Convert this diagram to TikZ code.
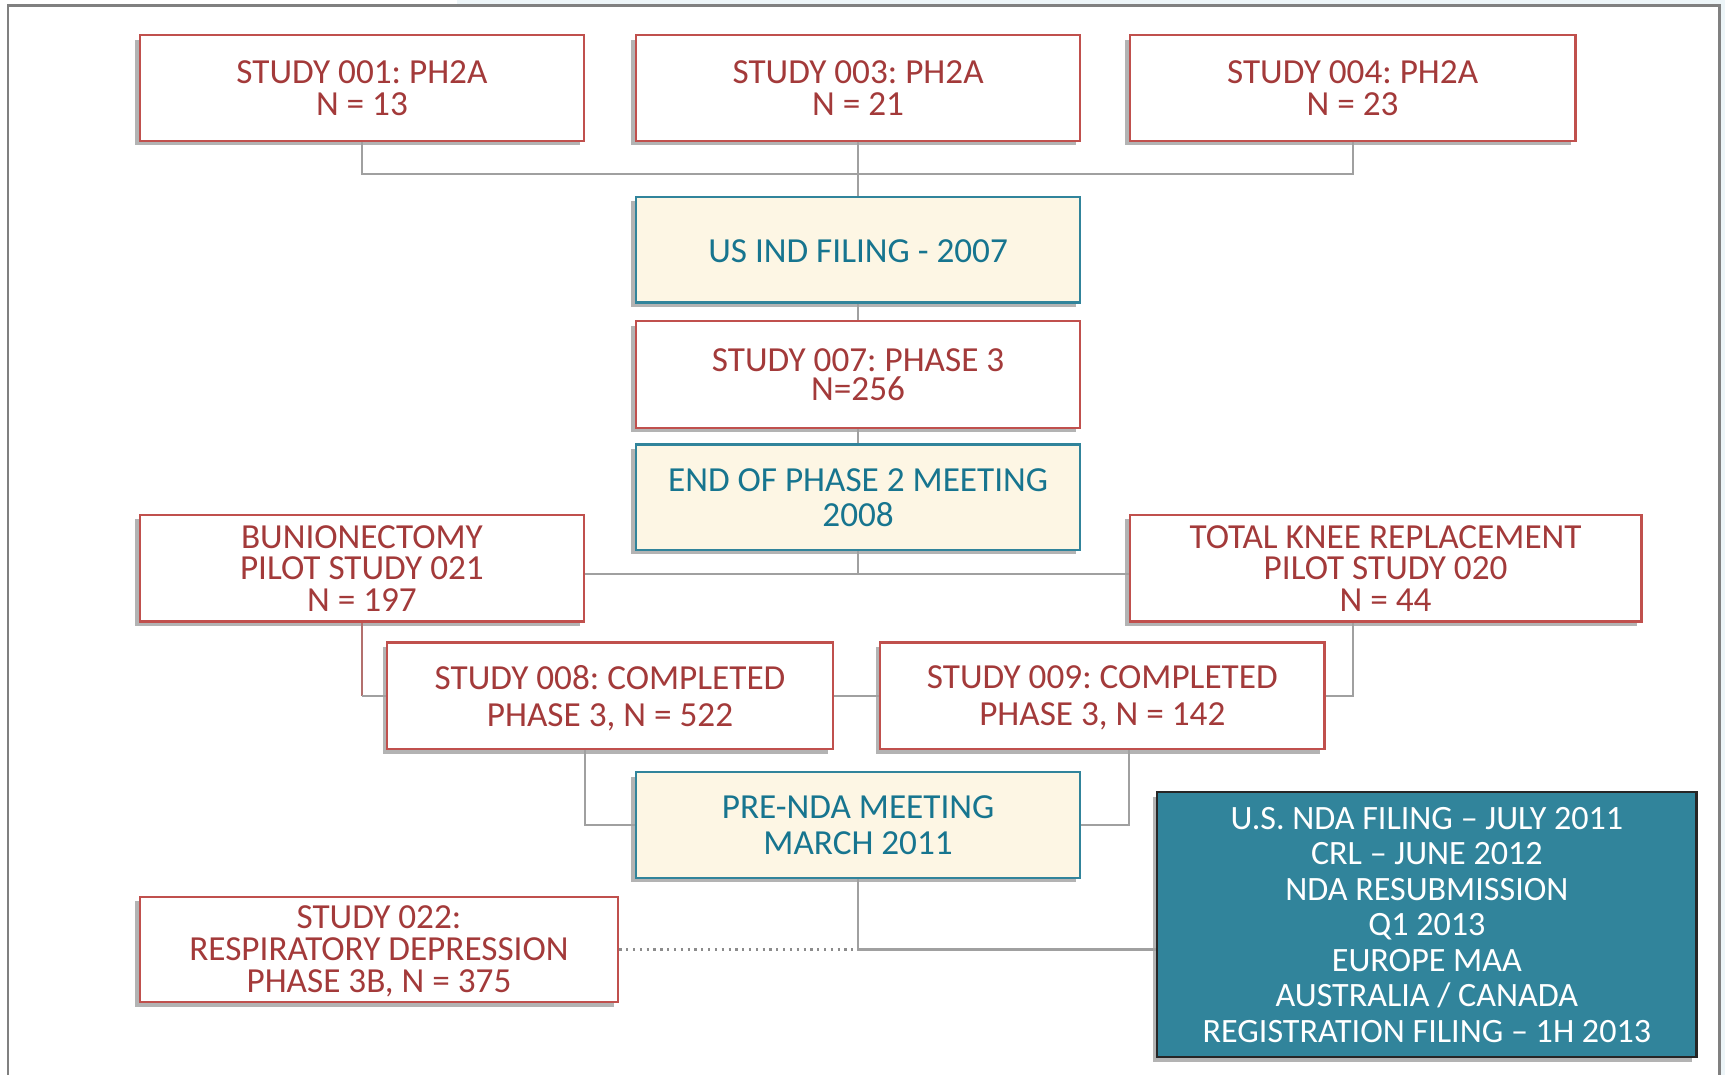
\documentclass[tikz,border=0pt]{standalone}
\usepackage{fontspec}
\setmainfont{Carlito}
\frenchspacing
\usetikzlibrary{shadows,calc}
\definecolor{boxred}{HTML}{C0504D}
\definecolor{txtred}{HTML}{A33A3A}
\definecolor{boxteal}{HTML}{31849B}
\definecolor{txtteal}{HTML}{17758F}
\definecolor{cream}{HTML}{FDF6E4}
\definecolor{ndafill}{HTML}{31849B}
\definecolor{linegray}{HTML}{A0A0A0}
\definecolor{framegray}{HTML}{808080}
\definecolor{bgblue}{HTML}{EDF5F8}
\begin{document}
\begin{tikzpicture}[x=1pt,y=-1pt,
  base/.style={draw, line width=2pt, align=center, inner sep=0pt,
    drop shadow={shadow xshift=-4pt,shadow yshift=-4pt,fill=black!35,opacity=0.85}},
  sz/.style 2 args={minimum width=#1pt, minimum height=#2pt},
  fs/.style 2 args={font=\fontsize{#1}{#2}\selectfont},
  down/.style={execute at begin node={\rule{0pt}{\dimexpr 21pt+#1pt+#1pt\relax}}},
  redbox/.style={base, draw=boxred, fill=white, text=txtred, text depth=0pt},
  tealbox/.style={base, draw=boxteal, fill=cream, text=txtteal, text depth=0pt},
  ndabox/.style={base, draw=black!85, fill=ndafill, text=white},
  conn/.style={draw=linegray, line width=2pt},
  dotconn/.style={draw=black!45, line width=2pt, dash pattern=on 2pt off 4.2pt},
]
\useasboundingbox (0,0) rectangle (1568,977);
\fill[bgblue] (415,0) rectangle (1568,5);
\fill[bgblue] (1563,0) rectangle (1568,977);
\draw[framegray, line width=2pt] (7,977) -- (7,5) -- (1563,5) -- (1563,977);

% top row
\node[redbox, sz={404}{96}, fs={32}{29}, down=2] (a) at (329,80) {STUDY 001: PH2A\\N = 13};
\node[redbox, sz={404}{96}, fs={32}{29}, down=2] (b) at (780,80) {STUDY 003: PH2A\\N = 21};
\node[redbox, sz={405}{96}, fs={32}{29}, down=2] (c) at (1229.5,80) {STUDY 004: PH2A\\N = 23};

\node[tealbox, sz={404}{96}, fs={32}{32}, down=1] (ind) at (780,227) {US IND FILING - 2007};
\node[redbox, sz={404}{97}, fs={32}{27}, down=3] (s007) at (780,340.5) {STUDY 007: PHASE 3\\N=256};
\node[tealbox, sz={404}{96}, fs={32}{32}, down=3] (eop) at (780,452) {END OF PHASE 2 MEETING\\2008};

\node[redbox, sz={404}{97}, fs={32}{28.5}, down=4] (bun) at (329,516.5) {BUNIONECTOMY\\PILOT STUDY 021\\N = 197};
\node[redbox, sz={465}{97}, fs={32}{28.5}, down=3] (tkr) at (1259.5,516.5) {TOTAL KNEE REPLACEMENT\\PILOT STUDY 020\\N = 44};

\node[redbox, sz={405}{97}, fs={32}{34}, down=2] (s008) at (554.5,632.5) {STUDY 008: COMPLETED\\PHASE 3, N = 522};
\node[redbox, sz={404}{97}, fs={32}{34}, down=2] (s009) at (1002,632.5) {STUDY 009: COMPLETED\\PHASE 3, N = 142};

\node[tealbox, sz={404}{96}, fs={32}{33}, down=4.5] (pre) at (780,750) {PRE-NDA MEETING\\MARCH 2011};

\node[redbox, sz={435}{96}, fs={32}{29}, down=2.5] (s022) at (344.5,863) {STUDY 022:\\RESPIRATORY DEPRESSION\\PHASE 3B, N = 375};

\node[ndabox, sz={490}{241}, fs={31}{32.3}] (nda) at (1297,840.5) {U.S. NDA FILING – JULY 2011\\CRL – JUNE 2012\\NDA RESUBMISSION\\Q1 2013\\EUROPE MAA\\AUSTRALIA / CANADA\\REGISTRATION FILING – 1H 2013};

% connectors
\coordinate (j1) at (780,158);
\coordinate (j2) at (780,522);
\draw[conn] (a.south) -- (a.south |- j1) -- (c.south |- j1) -- (c.south);
\draw[conn] (b.south) -- (ind.north);
\draw[conn] (ind.south) -- (s007.north);
\draw[conn] (s007.south) -- (eop.north);
\draw[conn] (bun.east |- j2) -- (tkr.west |- j2);
\draw[conn] (eop.south) -- (j2);
\draw[conn, draw=boxred!60!linegray] (bun.south) -- (bun.south |- s008.west);
\draw[conn] (bun.south |- s008.west) -- (s008.west);
\draw[conn] (s008.east) -- (s009.west);
\draw[conn] (s009.east) -- (s009.east -| c.south) -- (tkr.south -| c.south);
\draw[conn] (s008.south -| bun.east) |- (pre.west);
\draw[conn] (s009.south -| tkr.west) |- (pre.east);
\draw[conn] (pre.south) -- (pre.south |- s022.east) -- (nda.west |- s022.east);
\draw[dotconn] (s022.east) -- (pre.south |- s022.east);
\end{tikzpicture}
\end{document}
